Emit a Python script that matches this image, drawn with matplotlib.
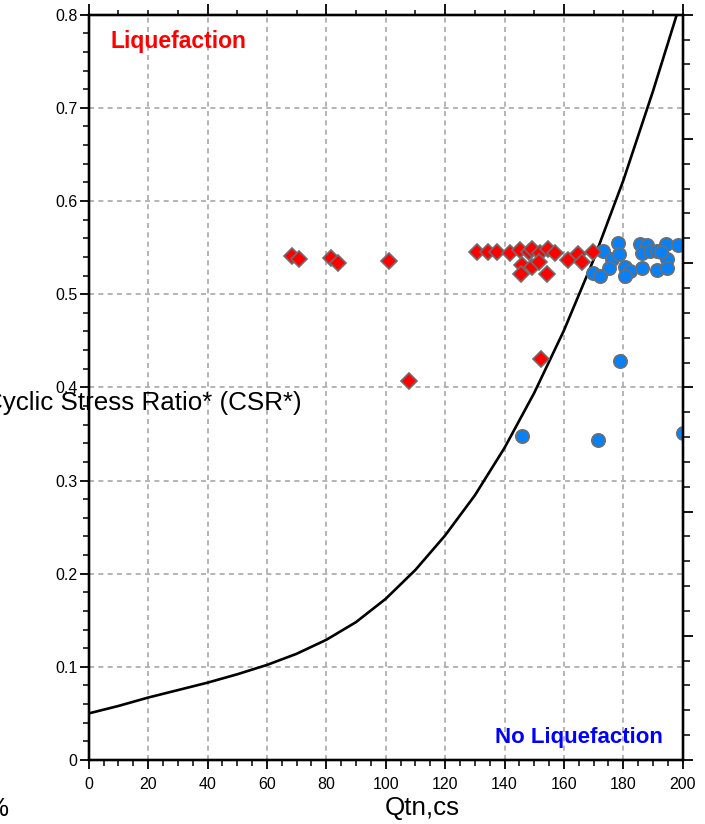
import numpy as np
import matplotlib
matplotlib.use('Agg')
import matplotlib.pyplot as plt
from matplotlib.ticker import MultipleLocator, FormatStrFormatter

# boundary curve (Qtn,cs vs CSR)
curve_q = [0, 10, 20, 30, 40, 50, 60, 70, 80, 90, 100, 110, 120, 130, 140,
           150, 160, 170, 180, 190, 198]
curve_csr = [0.050, 0.058, 0.067, 0.075, 0.083, 0.092, 0.102, 0.114, 0.129,
             0.148, 0.173, 0.204, 0.241, 0.284, 0.335, 0.394, 0.461, 0.537,
             0.622, 0.718, 0.800]

# liquefied points (red diamonds)
liq_q = [68.3, 70.9, 81.6, 84.0, 101.2, 107.9, 152.2,
         130.8, 134.5, 137.6, 141.9, 145.2, 148.4, 149.2, 152.0, 154.7,
         157.0, 161.5, 164.8, 166.0, 169.9,
         145.8, 145.6, 149.2, 151.7, 154.2]
liq_csr = [0.541, 0.538, 0.539, 0.534, 0.536, 0.407, 0.430,
           0.545, 0.545, 0.545, 0.544, 0.547, 0.545, 0.549, 0.544, 0.549,
           0.544, 0.537, 0.543, 0.535, 0.545,
           0.531, 0.522, 0.529, 0.535, 0.522]

# non-liquefied points (blue circles)
noliq_q = [173.0, 178.3, 176.1, 178.7, 175.3, 169.7, 172.2, 180.6, 182.3,
           180.6, 185.5, 187.9, 186.2, 189.0, 191.2, 186.2, 191.4, 194.4,
           194.8, 194.6, 198.5, 192.6,
           178.8, 146.0, 171.5, 200.0]
noliq_csr = [0.546, 0.555, 0.538, 0.543, 0.528, 0.523, 0.520, 0.529, 0.525,
             0.519, 0.554, 0.553, 0.544, 0.546, 0.546, 0.528, 0.526, 0.554,
             0.538, 0.528, 0.553, 0.545,
             0.428, 0.348, 0.343, 0.351]

W, H = 705, 824
fig = plt.figure(figsize=(W / 100, H / 100), dpi=100)
ax = fig.add_axes([88.7 / W, 64 / H, 594 / W, 745.3 / H])

font = ['Liberation Sans', 'DejaVu Sans']

ax.plot(curve_q, curve_csr, color='black', lw=1.9, zorder=3)
ax.plot(noliq_q, noliq_csr, 'o', ms=9.6, mfc='#0a80f5', mec='#6e6e6e',
        mew=1.2, zorder=4)
ax.plot(liq_q, liq_csr, 'D', ms=8.2, mfc='#ff0000', mec='#6e6e6e',
        mew=1.2, zorder=5)

ax.set_xlim(0, 200)
ax.set_ylim(0, 0.8)
ax.xaxis.set_major_locator(MultipleLocator(20))
ax.xaxis.set_minor_locator(MultipleLocator(5))
ax.yaxis.set_major_locator(MultipleLocator(0.1))
ax.yaxis.set_minor_locator(MultipleLocator(0.02))
ax.yaxis.set_major_formatter(FormatStrFormatter('%g'))
ax.grid(True, which='major', color='#a8a8a8', lw=1.2,
        linestyle=(0, (3, 2.6)), zorder=1)
ax.set_axisbelow(True)
for s in ax.spines.values():
    s.set_linewidth(1.6)
ax.tick_params(which='major', direction='out', length=6.5, width=1.3,
               labelsize=11.5, pad=1.5)
ax.tick_params(which='minor', direction='out', length=4.2, width=1.1)
ax.tick_params(axis='x', which='major', pad=6)
for lab in ax.get_xticklabels() + ax.get_yticklabels():
    lab.set_family(font)

# extra tick scales on the top and right edges
axr = ax.twinx()
axr.set_ylim(0, 6)
axr.yaxis.set_major_locator(MultipleLocator(1))
axr.yaxis.set_minor_locator(MultipleLocator(0.2))
axr.tick_params(which='major', direction='out', length=7.5, width=1.3,
                labelright=False)
axr.tick_params(which='minor', direction='out', length=4.8, width=1.1)

axt = ax.twiny()
axt.set_xlim(0, 200)
axt.xaxis.set_major_locator(MultipleLocator(40))
axt.xaxis.set_minor_locator(MultipleLocator(10))
axt.tick_params(which='major', direction='out', length=8, width=1.3,
                labeltop=False)
axt.tick_params(which='minor', direction='out', length=3.8, width=1.1)
for a in (axr, axt):
    for s in a.spines.values():
        s.set_linewidth(1.6)

fig.text(110 / W, 1 - 48.3 / H, 'Liquefaction', color='#ff0000',
         fontsize=16.5, fontweight='bold', family=font, va='baseline')
fig.text(495 / W, 1 - 743 / H, 'No Liquefaction', color='#0000ff',
         fontsize=16.0, fontweight='bold', family=font, va='baseline')

fig.text(-16 / W, 1 - 410 / H, 'Cyclic Stress Ratio* (CSR*)', fontsize=18.7,
         family=font, va='baseline', ha='left')
fig.text(385 / W, 1 - 815 / H, 'Qtn,cs', fontsize=18.7, family=font,
         va='baseline', ha='left')
fig.text(8 / W, 1 - 816 / H, '%', fontsize=18.7, family=font,
         va='baseline', ha='right')

fig.savefig('out.png', dpi=100)
